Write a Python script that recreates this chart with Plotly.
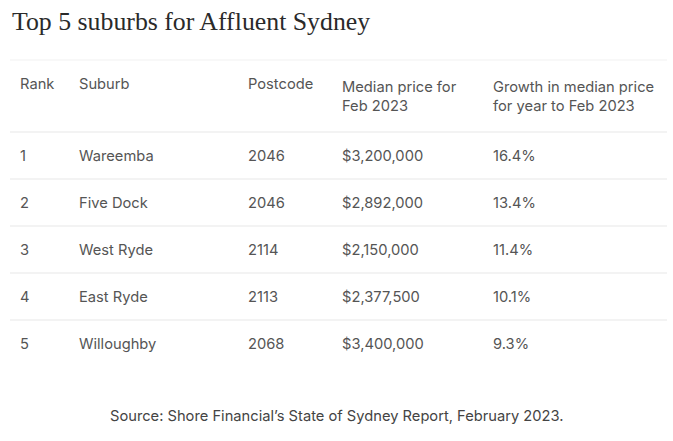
import plotly.graph_objects as go

# table data
ranks = ["1", "2", "3", "4", "5"]
suburbs = ["Wareemba", "Five Dock", "West Ryde", "East Ryde", "Willoughby"]
postcodes = ["2046", "2046", "2114", "2113", "2068"]
median_price = ["$3,200,000", "$2,892,000", "$2,150,000", "$2,377,500", "$3,400,000"]
growth = ["16.4%", "13.4%", "11.4%", "10.1%", "9.3%"]
headers = ["Rank", "Suburb", "Postcode", "Median price for<br>Feb 2023",
           "Growth in median price<br>for year to Feb 2023"]

title = "Top 5 suburbs for Affluent Sydney"
source = "Source: Shore Financial\u2019s State of Sydney Report, February 2023."

W, H = 673, 441
rule_left, rule_right, rule_top = 10, 667, 60
tbl_left, tbl_top = 12, 70   # table text sits top-aligned, so push it down a bit
header_h, row_h = 72, 47
text_col = "#555555"
body_font = dict(family="Inter", size=14.7, color=text_col)

fig = go.Figure(go.Table(
    columnwidth=[59, 169, 94, 151, 184],
    header=dict(values=headers, align="left", font=body_font, height=header_h,
                fill_color="rgba(0,0,0,0)", line_color="rgba(0,0,0,0)"),
    cells=dict(values=[ranks, suburbs, postcodes, median_price, growth],
               align="left", font=body_font, height=row_h,
               fill_color="rgba(0,0,0,0)", line_color="rgba(0,0,0,0)"),
    domain=dict(x=[tbl_left / W, (tbl_left + 657) / W], y=[0, 1 - tbl_top / H]),
))

# horizontal rules between rows
rules = [rule_top] + [rule_top + header_h + i * row_h for i in range(len(ranks))]
for i, yy in enumerate(rules):
    fig.add_shape(type="line", xref="paper", yref="paper",
                  x0=rule_left / W, x1=rule_right / W, y0=1 - yy / H, y1=1 - yy / H,
                  line=dict(color="#f2f2f2" if i == 0 else "#e8e8e8", width=1.2),
                  layer="below")

fig.add_annotation(text=title, xref="paper", yref="paper", x=10 / W, y=1 - 22 / H,
                   xanchor="left", yanchor="middle", showarrow=False,
                   font=dict(family="Liberation Serif", size=25.8, color="#2a2a2a"))
fig.add_annotation(text=source, xref="paper", yref="paper", x=0.5, y=1 - 416 / H,
                   xanchor="center", yanchor="middle", showarrow=False,
                   font=dict(family="Inter", size=14.7, color="#444444"))

fig.update_layout(width=W, height=H, margin=dict(l=0, r=0, t=0, b=0),
                  paper_bgcolor="white", plot_bgcolor="white")
fig.write_html("out.html", config={"displayModeBar": False},
               post_script="document.body.style.margin='0';")
